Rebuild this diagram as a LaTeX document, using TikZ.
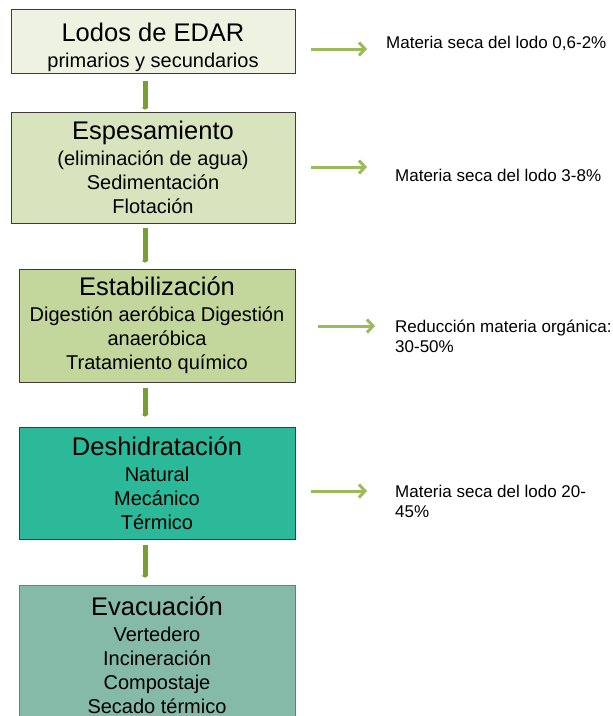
\documentclass[tikz,border=0pt]{standalone}
\usepackage{fontspec}
\setmainfont{Liberation Sans}
\usetikzlibrary{arrows.meta}

\definecolor{fillA}{HTML}{EEF2E1}
\definecolor{fillB}{HTML}{D8E4BD}
\definecolor{fillC}{HTML}{C3D69B}
\definecolor{fillD}{HTML}{2BB99A}
\definecolor{fillE}{HTML}{85B9A8}
\definecolor{boxline}{HTML}{3C3C3C}
\definecolor{lineE}{HTML}{1FA08C}
\definecolor{stemgreen}{HTML}{76A032}
\definecolor{sidegreen}{HTML}{9BBB59}

\begin{document}
\begin{tikzpicture}[x=1pt,y=-1pt]
	\tikzstyle{box_style} = [draw=boxline,line width=0.8pt,align=center,inner sep=0pt,font=\fontsize{20}{24}\selectfont]
	\tikzstyle{down_style} = [draw=stemgreen,line width=5pt,-{Triangle[length=2pt,width=7pt]}]
	\tikzstyle{side_style} = [draw=sidegreen,line width=3pt,-{Straight Barb[length=6pt,width=13pt]}]
	\tikzstyle{note_style} = [anchor=west,inner sep=0pt,align=left,font=\fontsize{17}{20}\selectfont]
	\useasboundingbox (0,0) rectangle (613,716);
	\clip (0,0) rectangle (613,716);
	% stages
	\node[box_style,fill=fillA,minimum width=284pt,minimum height=64pt] (b1) at (153,41) {{\fontsize{25.5}{25}\selectfont\rule{0pt}{31pt}Lodos de EDAR}\\[2pt] primarios y secundarios};
	\node[box_style,fill=fillB,minimum width=284pt,minimum height=111pt] (b2) at (153,167.5) {{\fontsize{25.5}{25}\selectfont Espesamiento}\\[2pt] (eliminación de agua)\\ Sedimentación\\ Flotación};
	\node[box_style,fill=fillC,minimum width=276pt,minimum height=113pt] (b3) at (157,325.5) {{\fontsize{25.5}{25}\selectfont Estabilización}\\[2pt] Digestión aeróbica Digestión\\ anaeróbica\\ Tratamiento químico};
	\node[box_style,fill=fillD,minimum width=276pt,minimum height=112pt] (b4) at (157,483) {{\fontsize{25.5}{25}\selectfont Deshidratación}\\[2pt] Natural\\ Mecánico\\ Térmico};
	\node[box_style,draw=lineE,fill=fillE,minimum width=276pt,minimum height=140pt] (b5) at (157,655) {{\fontsize{25.5}{25}\selectfont Evacuación}\\[2pt] Vertedero\\ Incineración\\ Compostaje\\ Secado térmico};
	% notes
	\node[note_style] (t1) at (386,43) {Materia seca del lodo 0,6-2\%};
	\node[note_style] (t2) at (395,175) {Materia seca del lodo 3-8\%};
	\node[note_style] (t3) at (395,336) {Reducción materia orgánica:\\ 30-50\%};
	\node[note_style] (t4) at (395,501) {Materia seca del lodo 20-\\ 45\%};
	% flow
	\coordinate (ax) at (145,0);
	\draw[down_style,shorten <=8pt,shorten >=2pt] (b1.south -| ax) -- (b2.north -| ax);
	\draw[down_style,shorten <=5pt,shorten >=6pt] (b2.south -| ax) -- (b3.north -| ax);
	\draw[down_style,shorten <=6pt,shorten >=10pt] (b3.south -| ax) -- (b4.north -| ax);
	\draw[down_style,shorten <=6pt,shorten >=7pt] (b4.south -| ax) -- (b5.north -| ax);
	\coordinate (a1) at (311,49);
	\coordinate (e1) at (367,49);
	\coordinate (a2) at (311,167);
	\coordinate (e2) at (367,167);
	\coordinate (a3) at (318,326);
	\coordinate (e3) at (375,326);
	\coordinate (a4) at (311,491);
	\coordinate (e4) at (367,491);
	\draw[side_style] (a1) -- (e1);
	\draw[side_style] (a2) -- (e2);
	\draw[side_style] (a3) -- (e3);
	\draw[side_style] (a4) -- (e4);
\end{tikzpicture}
\end{document}
